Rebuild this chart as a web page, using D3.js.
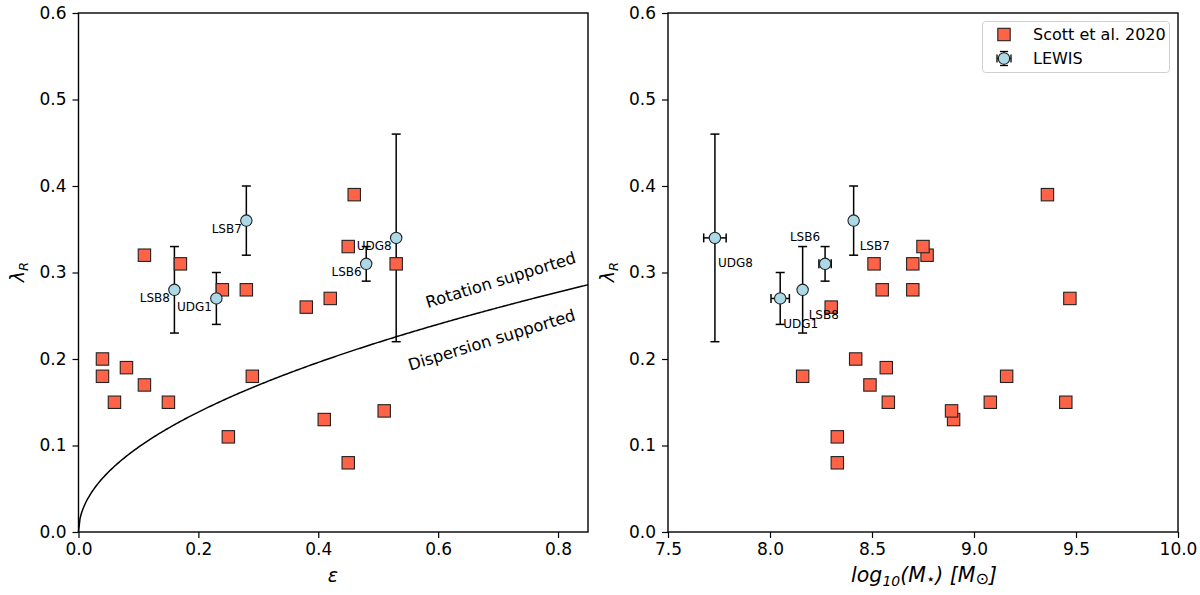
<!DOCTYPE html>
<html><head><meta charset="utf-8">
<script src="https://cdn.jsdelivr.net/npm/d3@7"></script>
<style>
body{margin:0;background:#fff;}
svg{display:block;font-family:"DejaVu Sans",sans-serif;}
</style></head>
<body><svg id="c" width="1200" height="595"></svg>
<script>
// ---- data ----
const scottEps = [0.04,0.04,0.06,0.08,0.11,0.11,0.15,0.17,0.24,0.25,0.28,0.29,0.38,0.42,0.41,0.45,0.46,0.45,0.51,0.53];
const scottLamL = [0.20,0.18,0.15,0.19,0.17,0.32,0.15,0.31,0.28,0.11,0.28,0.18,0.26,0.27,0.13,0.33,0.39,0.08,0.14,0.31];
const scottLogM = [9.36,8.77,8.75,8.51,8.70,8.55,8.70,9.47,8.57,8.49,8.58,9.16,9.08,9.45,8.90,8.89,8.30,8.16,8.42,8.33,8.33];
const scottLamR = [0.39,0.32,0.33,0.31,0.31,0.28,0.28,0.27,0.19,0.17,0.15,0.18,0.15,0.15,0.13,0.14,0.26,0.18,0.20,0.11,0.08];

const lewisNames = ["UDG1","UDG8","LSB6","LSB7","LSB8"];
const lewisEps   = [0.23,0.53,0.48,0.28,0.16];
const lewisLam   = [0.27,0.34,0.31,0.36,0.28];
const lewisLamLo = [0.24,0.22,0.29,0.32,0.23];
const lewisLamHi = [0.30,0.46,0.33,0.40,0.33];
const lewisLogM  = [8.05,7.73,8.27,8.41,8.16];
const lewisLogMErr = [0.045,0.055,0.03,0,0];

const leftXTicks = [0,0.2,0.4,0.6,0.8];
const rightXTicks = [7.5,8.0,8.5,9.0,9.5,10.0];
const yTicks = [0,0.1,0.2,0.3,0.4,0.5,0.6];
const boundaryCoef = 0.31; // lambda_R = 0.31 * sqrt(eps)

// ---- layout ----
const svg = d3.select("#c");
const plotTop = 13, plotBottom = 532;
const y = d3.scaleLinear().domain([0,0.6]).range([plotBottom, plotTop]);
const xL = d3.scaleLinear().domain([0,0.85]).range([78.5, 588]);
const xR = d3.scaleLinear().domain([7.5,10]).range([668, 1178]);
const SQ = "#ff6347", CI = "#add8e6";

function panel(x, xticks, fmt){
  const g = svg.append("g");
  const ax = g.append("g").attr("transform",`translate(0,${plotBottom})`)
    .call(d3.axisBottom(x).tickValues(xticks).tickFormat(fmt).tickSizeOuter(0).tickSize(6).tickPadding(5));
  const ay = g.append("g").attr("transform",`translate(${x.range()[0]},0)`)
    .call(d3.axisLeft(y).tickValues(yTicks).tickFormat(d3.format(".1f")).tickSizeOuter(0).tickSize(6).tickPadding(6));
  [ax,ay].forEach(a=>{
    a.selectAll("text").attr("font-size",17).attr("fill","#000").attr("font-family","DejaVu Sans");
    a.selectAll("line").attr("stroke","#000").attr("stroke-width",1.2);
    a.select(".domain").remove();
  });
  g.append("rect").attr("x",x.range()[0]).attr("y",plotTop)
    .attr("width",x.range()[1]-x.range()[0]).attr("height",plotBottom-plotTop)
    .attr("fill","none").attr("stroke","#000").attr("stroke-width",1.4);
  return g;
}

function errbars(g, xs, ys, lo, hi, xerr){
  const cap = 4.5;
  xs.forEach((px,i)=>{
    const py = ys[i];
    g.append("line").attr("x1",px).attr("x2",px).attr("y1",lo[i]).attr("y2",hi[i]).attr("stroke","#000").attr("stroke-width",1.5);
    [lo[i],hi[i]].forEach(v=>g.append("line").attr("x1",px-cap).attr("x2",px+cap).attr("y1",v).attr("y2",v).attr("stroke","#000").attr("stroke-width",1.5));
    if (xerr && xerr[i]){
      const a = xerr[i][0], b = xerr[i][1];
      g.append("line").attr("x1",a).attr("x2",b).attr("y1",py).attr("y2",py).attr("stroke","#000").attr("stroke-width",1.5);
      [a,b].forEach(v=>g.append("line").attr("x1",v).attr("x2",v).attr("y1",py-cap).attr("y2",py+cap).attr("stroke","#000").attr("stroke-width",1.5));
    }
  });
}
function squares(g, xs, ys){
  xs.forEach((px,i)=>g.append("rect").attr("x",px-6.2).attr("y",ys[i]-6.2).attr("width",12.4).attr("height",12.4)
    .attr("fill",SQ).attr("stroke","#222").attr("stroke-width",1.1));
}
function circles(g, xs, ys){
  xs.forEach((px,i)=>g.append("circle").attr("cx",px).attr("cy",ys[i]).attr("r",5.7)
    .attr("fill",CI).attr("stroke","#222").attr("stroke-width",1.1));
}

// ---- left panel ----
const gL = panel(xL, leftXTicks, d3.format(".1f"));
const curvePts = d3.range(0, 0.8501, 0.0025).map(e=>[e, boundaryCoef*Math.sqrt(e)]);
gL.append("path").attr("d", d3.line().x(d=>xL(d[0])).y(d=>y(d[1]))(curvePts))
  .attr("fill","none").attr("stroke","#000").attr("stroke-width",1.5);
gL.append("text").attr("transform","translate(501,281) rotate(-17)").attr("text-anchor","middle")
  .attr("dominant-baseline","middle").attr("font-size",16.3).text("Rotation supported");
gL.append("text").attr("transform","translate(492,341) rotate(-17)").attr("text-anchor","middle")
  .attr("dominant-baseline","middle").attr("font-size",16.3).text("Dispersion supported");

errbars(gL, lewisEps.map(xL), lewisLam.map(y), lewisLamLo.map(y), lewisLamHi.map(y), null);
squares(gL, scottEps.map(xL), scottLamL.map(y));
circles(gL, lewisEps.map(xL), lewisLam.map(y));
lewisNames.forEach((n,i)=>{
  gL.append("text").attr("x",xL(lewisEps[i])-4.5).attr("y",y(lewisLam[i])+12.5)
    .attr("text-anchor","end").attr("font-size",12).text(n);
});
svg.append("text").attr("x",333).attr("y",582).attr("text-anchor","middle").attr("font-size",19)
  .attr("font-style","italic").text("ε");
function lamLabel(xc){
  const t = svg.append("text").attr("transform",`translate(${xc},272) rotate(-90)`).attr("text-anchor","middle").attr("font-size",19);
  t.append("tspan").attr("font-style","italic").text("λ");
  t.append("tspan").attr("font-style","italic").attr("font-size",13).attr("dy",4).text("R");
}
lamLabel(24);

// ---- right panel ----
const gR = panel(xR, rightXTicks, d3.format(".1f"));
const xerrR = lewisLogM.map((m,i)=>lewisLogMErr[i] ? [xR(m-lewisLogMErr[i]), xR(m+lewisLogMErr[i])] : null);
errbars(gR, lewisLogM.map(xR), lewisLam.map(y), lewisLamLo.map(y), lewisLamHi.map(y), xerrR);
squares(gR, scottLogM.map(xR), scottLamR.map(y));
circles(gR, lewisLogM.map(xR), lewisLam.map(y));
const rightLabelOff = {UDG1:[3,29.5,"start"],UDG8:[3,29.5,"start"],LSB6:[-5,-22.5,"end"],LSB7:[6,29.5,"start"],LSB8:[6,29.5,"start"]};
lewisNames.forEach((n,i)=>{
  const o = rightLabelOff[n];
  gR.append("text").attr("x",xR(lewisLogM[i])+o[0]).attr("y",y(lewisLam[i])+o[1])
    .attr("text-anchor",o[2]).attr("font-size",12).text(n);
});
lamLabel(614);
const xl = svg.append("text").attr("x",924).attr("y",582).attr("text-anchor","middle").attr("font-size",20.5)
  .attr("font-style","italic");
xl.append("tspan").text("log");
xl.append("tspan").attr("font-size",14).attr("dy",4).text("10");
xl.append("tspan").attr("dy",-4).text("(M");
xl.append("tspan").attr("font-size",15).attr("dy",2).text("⋆");
xl.append("tspan").attr("dy",-2).text(") [M");
xl.append("tspan").attr("font-size",16).attr("dy",2).text("⊙");
xl.append("tspan").attr("dy",-2).text("]");

// ---- legend ----
const lg = svg.append("g");
lg.append("rect").attr("x",982.5).attr("y",21.5).attr("width",187).attr("height",51).attr("rx",3)
  .attr("fill","#fff").attr("fill-opacity",0.8).attr("stroke","#d0d0d0").attr("stroke-width",1);
lg.append("rect").attr("x",1004-6.2).attr("y",34.5-6.2).attr("width",12.4).attr("height",12.4)
  .attr("fill",SQ).attr("stroke","#222").attr("stroke-width",1.1);
lg.append("text").attr("x",1033).attr("y",40).attr("font-size",16).text("Scott et al. 2020");
const lx=1004, ly=58.5;
lg.append("line").attr("x1",lx-7).attr("x2",lx+7).attr("y1",ly).attr("y2",ly).attr("stroke","#000").attr("stroke-width",1.3);
[lx-7,lx+7].forEach(v=>lg.append("line").attr("x1",v).attr("x2",v).attr("y1",ly-4).attr("y2",ly+4).attr("stroke","#000").attr("stroke-width",1.3));
lg.append("line").attr("x1",lx).attr("x2",lx).attr("y1",ly-7).attr("y2",ly+7).attr("stroke","#000").attr("stroke-width",1.3);
[ly-7,ly+7].forEach(v=>lg.append("line").attr("x1",lx-4).attr("x2",lx+4).attr("y1",v).attr("y2",v).attr("stroke","#000").attr("stroke-width",1.3));
lg.append("circle").attr("cx",lx).attr("cy",ly).attr("r",5.7).attr("fill",CI).attr("stroke","#222").attr("stroke-width",1.1);
lg.append("text").attr("x",1033).attr("y",64).attr("font-size",16).text("LEWIS");
</script></body></html>
